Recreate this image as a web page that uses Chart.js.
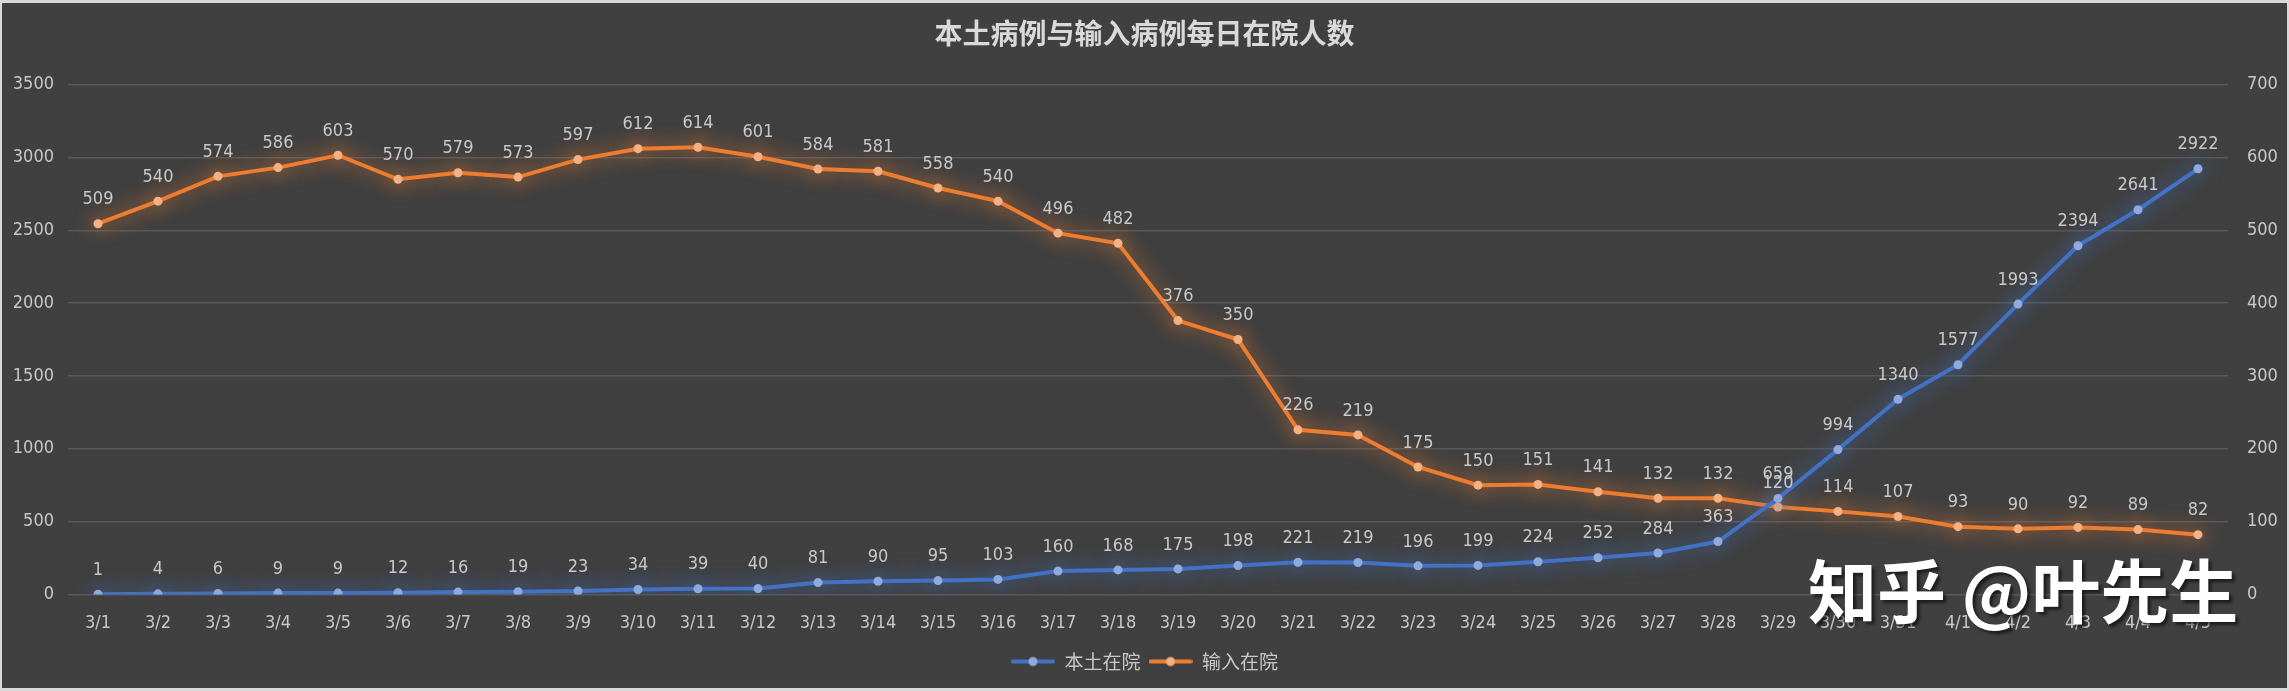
<!DOCTYPE html>
<html>
<head>
<meta charset="utf-8">
<script src="https://cdn.jsdelivr.net/npm/chart.js@4/dist/chart.umd.min.js"></script>
<style>
  html, body { margin: 0; padding: 0; background: #d9d9d9; }
  #frame {
    position: absolute; left: 2px; top: 3px; width: 2285px; height: 685px;
    background: #404040;
  }
  #mark {
    position: absolute; left: 1808px; top: 554px;
    font-family: "Noto Sans CJK SC", sans-serif; font-size: 69px; font-weight: bold;
    color: #ffffff; text-shadow: 3px 3px 3px rgba(0,0,0,0.55);
    white-space: nowrap; line-height: 1;
  }
</style>
</head>
<body>
<div id="frame">
  <canvas id="chart" width="2285" height="685"></canvas>
</div>
<div id="mark">知乎 @叶先生</div>
<script>
const FONT = '"DejaVu Sans Condensed", "Noto Sans CJK SC", sans-serif';
const TEXT_COLOR = '#c8c8c8';

const DATES = [
   '3/1', '3/2', '3/3', '3/4', '3/5', '3/6', '3/7', '3/8', '3/9', '3/10',
   '3/11', '3/12', '3/13', '3/14', '3/15', '3/16', '3/17', '3/18', '3/19', '3/20',
   '3/21', '3/22', '3/23', '3/24', '3/25', '3/26', '3/27', '3/28', '3/29', '3/30',
   '3/31', '4/1', '4/2', '4/3', '4/4', '4/5'
]
// 本土在院 (left axis)
const LOCAL = [
   1, 4, 6, 9, 9, 12, 16, 19, 23, 34,
   39, 40, 81, 90, 95, 103, 160, 168, 175, 198,
   221, 219, 196, 199, 224, 252, 284, 363, 659, 994,
   1340, 1577, 1993, 2394, 2641, 2922
]
// 输入在院 (right axis)
const IMPORTED = [
   509, 540, 574, 586, 603, 570, 579, 573, 597, 612,
   614, 601, 584, 581, 558, 540, 496, 482, 376, 350,
   226, 219, 175, 150, 151, 141, 132, 132, 120, 114,
   107, 93, 90, 92, 89, 82
]
const SERIES_NAMES = ['本土在院', '输入在院']
const LEFT_MAX = 3500, LEFT_STEP = 500
const RIGHT_MAX = 700, RIGHT_STEP = 100

const BLUE = '#4472C4', BLUE_DOT = '#8FAADC'
const ORANGE = '#ED7D31', ORANGE_DOT = '#F4B183'

// little line+dot icon for the legend
function legendIcon(line, dot) {
   const c = document.createElement('canvas');
   c.width = 44; c.height = 12;
   const ctx = c.getContext('2d');
   ctx.strokeStyle = line;
   ctx.lineWidth = 4;
   ctx.lineCap = 'round';
   ctx.beginPath(); ctx.moveTo(2, 6); ctx.lineTo(42, 6); ctx.stroke();
   ctx.fillStyle = dot;
   ctx.beginPath(); ctx.arc(22, 6, 4.5, 0, Math.PI * 2); ctx.fill();
   return c;
}

// soft glow behind each line, like the Excel style
const glowPlugin = {
   id: 'glow',
   beforeDatasetDraw(chart, args) {
      const ds = chart.data.datasets[args.index];
      chart.ctx.save();
      chart.ctx.shadowColor = ds.glowColor;
      chart.ctx.shadowBlur = 20;
   },
   afterDatasetDraw(chart) {
      chart.ctx.restore();
   }
};

// value labels above each point
const valueLabels = {
   id: 'valueLabels',
   afterDatasetsDraw(chart) {
      const ctx = chart.ctx;
      ctx.save();
      ctx.font = '18px ' + FONT;
      ctx.fillStyle = TEXT_COLOR;
      ctx.textAlign = 'center';
      ctx.textBaseline = 'middle';
      chart.data.datasets.forEach((ds, i) => {
         chart.getDatasetMeta(i).data.forEach((pt, j) => {
            ctx.fillText(String(ds.data[j]), pt.x, pt.y - 24);
         });
      });
      ctx.restore();
   }
};

new Chart(document.getElementById('chart'), {
   type: 'line',
   data: {
      labels: DATES,
      datasets: [
         {
            label: SERIES_NAMES[0],
            data: LOCAL,
            yAxisID: 'y',
            borderColor: BLUE,
            borderWidth: 4,
            pointBackgroundColor: BLUE_DOT,
            pointBorderWidth: 0,
            pointRadius: 4.5,
            glowColor: 'rgba(68, 114, 196, 1)',
            tension: 0
         },
         {
            label: SERIES_NAMES[1],
            data: IMPORTED,
            yAxisID: 'y1',
            borderColor: ORANGE,
            borderWidth: 4,
            pointBackgroundColor: ORANGE_DOT,
            pointBorderWidth: 0,
            pointRadius: 4.5,
            glowColor: 'rgba(237, 125, 49, 1)',
            tension: 0
         }
      ]
   },
   options: {
      responsive: false,
      maintainAspectRatio: false,
      animation: false,
      layout: { padding: { left: 0, right: 0, top: 0, bottom: 7 } },
      scales: {
         x: {
            offset: true,
            grid: { display: false },
            border: { display: false },
            ticks: { color: TEXT_COLOR, font: { family: FONT, size: 18 }, maxRotation: 0, autoSkip: false, padding: 10 }
         },
         y: {
            position: 'left',
            min: 0, max: LEFT_MAX,
            grid: { color: '#595959', lineWidth: 1.5, drawTicks: false },
            border: { display: false },
            afterFit(scale) { scale.width = 66; },
            ticks: {
               stepSize: LEFT_STEP, color: TEXT_COLOR, font: { family: FONT, size: 18 }, padding: 14,
               callback: v => String(v)
            }
         },
         y1: {
            position: 'right',
            min: 0, max: RIGHT_MAX,
            grid: { display: false, drawTicks: false },
            border: { display: false },
            afterFit(scale) { scale.width = 59; },
            ticks: {
               stepSize: RIGHT_STEP, color: TEXT_COLOR, font: { family: FONT, size: 18 }, padding: 19,
               callback: v => String(v)
            }
         }
      },
      plugins: {
         title: {
            display: true,
            text: '本土病例与输入病例每日在院人数',
            color: '#d9d9d9',
            font: { family: '"Noto Sans CJK SC", sans-serif', size: 28, weight: 'bold' },
            padding: { top: 14, bottom: 34 }
         },
         legend: {
            position: 'bottom',
            labels: {
               color: TEXT_COLOR,
               font: { family: '"Noto Sans CJK SC", sans-serif', size: 19 },
               usePointStyle: true,
               pointStyleWidth: 44,
               padding: 8,
               generateLabels(chart) {
                  return chart.data.datasets.map((ds, i) => ({
                     text: ds.label,
                     fontColor: TEXT_COLOR,
                     fillStyle: ds.borderColor,
                     strokeStyle: ds.borderColor,
                     lineWidth: 0,
                     pointStyle: legendIcon(ds.borderColor, ds.pointBackgroundColor),
                     hidden: false,
                     datasetIndex: i
                  }));
               }
            }
         },
         tooltip: { enabled: false }
      }
   },
   plugins: [glowPlugin, valueLabels]
});
</script>
</body>
</html>
